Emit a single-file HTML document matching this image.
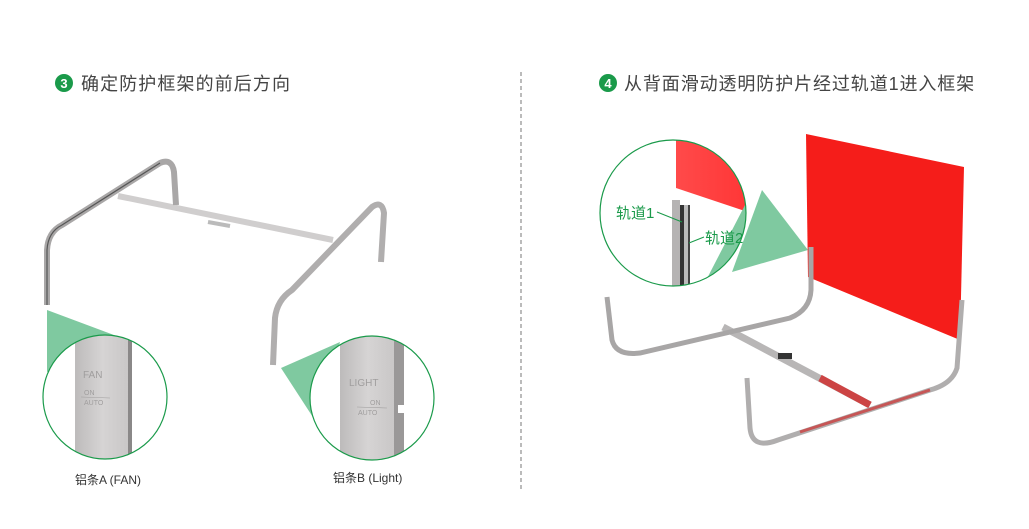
<!DOCTYPE html>
<html><head><meta charset="utf-8"><style>
body{margin:0;background:#fff;width:1029px;height:529px;overflow:hidden}
svg{display:block}
text{font-family:"Liberation Sans","Noto Sans CJK SC",sans-serif}
</style></head><body>
<svg width="1029" height="529" viewBox="0 0 1029 529">
<defs>
<linearGradient id="st" x1="0" x2="1"><stop offset="0" stop-color="#bdbbbb"/><stop offset="0.5" stop-color="#d6d4d4"/><stop offset="1" stop-color="#c8c6c6"/></linearGradient>
<linearGradient id="rd" x1="0" x2="1"><stop offset="0" stop-color="#ff4a4a"/><stop offset="1" stop-color="#ff3030"/></linearGradient>
<clipPath id="c1"><circle cx="105" cy="397" r="62"/></clipPath>
<clipPath id="c2"><circle cx="372" cy="398" r="62"/></clipPath>
<clipPath id="c3"><circle cx="673" cy="213" r="73"/></clipPath>
</defs>
<circle cx="64" cy="83" r="9" fill="#1a9a4a"/><text x="64" y="88" font-size="13" fill="#fff" text-anchor="middle" font-weight="bold">3</text>
<text x="81" y="90" font-size="18" fill="#444" letter-spacing="1.1">确定防护框架的前后方向</text>
<circle cx="608" cy="83" r="9" fill="#1a9a4a"/><text x="608" y="88" font-size="13" fill="#fff" text-anchor="middle" font-weight="bold">4</text>
<text x="624" y="90" font-size="18" fill="#444" letter-spacing="0.9">从背面滑动透明防护片经过轨道1进入框架</text>
<line x1="521" y1="72" x2="521" y2="490" stroke="#777" stroke-dasharray="4,3"/>

<g fill="none" stroke-linecap="butt">
<path d="M118 196 L333 240" stroke="#d0cece" stroke-width="6"/>
<path d="M208 222 L230 226" stroke="#bbb" stroke-width="4"/>
<path d="M47 305 L47 250 Q48 232 62 225 L160 163 Q172 158 174 172 L176 205" stroke="#a9a7a7" stroke-width="6"/>
<path d="M47 305 L47 250 Q48 232 62 225 L160 163" stroke="#555" stroke-width="1.2"/>
<path d="M273 365 L275 318 Q277 300 292 290 L372 207 Q382 200 384 213 L381 262" stroke="#b0aeae" stroke-width="6"/>
</g>
<polygon points="47,310 47,372 130,341" fill="#7fc9a0"/>
<polygon points="281,368 340,342 318,425" fill="#7fc9a0"/>
<g clip-path="url(#c1)">
<circle cx="105" cy="397" r="62" fill="#fff"/>
<rect x="75" y="330" width="55" height="140" fill="url(#st)"/>
<rect x="128" y="330" width="4" height="140" fill="#8a8888"/>
<text x="83" y="378" font-size="10" fill="#a09e9e">FAN</text>
<text x="84" y="395" font-size="7" fill="#a09e9e">ON</text>
<line x1="81" y1="397" x2="110" y2="398" stroke="#a09e9e" stroke-width="0.6"/>
<text x="84" y="405" font-size="7" fill="#a09e9e">AUTO</text>
</g>
<circle cx="105" cy="397" r="62" fill="none" stroke="#1a9a4a" stroke-width="1.2"/>
<g clip-path="url(#c2)">
<circle cx="372" cy="398" r="62" fill="#fff"/>
<rect x="340" y="330" width="56" height="140" fill="url(#st)"/>
<rect x="394" y="330" width="10" height="140" fill="#9a9898"/>
<rect x="398" y="405" width="8" height="8" fill="#fff"/>
<text x="349" y="386" font-size="10" fill="#a09e9e">LIGHT</text>
<text x="370" y="405" font-size="7" fill="#a09e9e">ON</text>
<line x1="357" y1="407" x2="387" y2="408" stroke="#a09e9e" stroke-width="0.6"/>
<text x="358" y="415" font-size="7" fill="#a09e9e">AUTO</text>
</g>
<circle cx="372" cy="398" r="62" fill="none" stroke="#1a9a4a" stroke-width="1.2"/>
<text x="75" y="484" font-size="12" fill="#333">铝条A (FAN)</text>
<text x="333" y="482" font-size="12" fill="#333">铝条B (Light)</text>

<polygon points="806,134 964,167 960,340 808,277" fill="#f51d1a"/>
<g fill="none">
<path d="M723 327 L870 405" stroke="#b8b6b6" stroke-width="7"/>
<path d="M820 378 L870 405" stroke="#c44" stroke-width="7"/>
<rect x="778" y="353" width="14" height="6" fill="#333"/>
<path d="M607 297 L612 340 Q616 356 640 353 L790 318 Q810 310 811 290 L811 247" stroke="#a8a6a6" stroke-width="5"/>
<path d="M962 300 L957 368 Q952 384 930 390 L778 440 Q752 450 750 428 L747 378" stroke="#b0aeae" stroke-width="5"/>
<path d="M930 390 L800 432" stroke="#d03030" stroke-width="3" opacity="0.7"/>
</g>
<polygon points="762,190 732,272 808,250" fill="#7fc9a0"/>
<g clip-path="url(#c3)">
<circle cx="673" cy="213" r="73" fill="#fff"/>
<polygon points="676,130 770,140 760,216 676,188" fill="url(#rd)"/>
<polygon points="745,205 808,250 700,292" fill="#7fc9a0"/>
<rect x="672" y="200" width="8" height="95" fill="#b5b3b3"/>
<rect x="680" y="205" width="4" height="90" fill="#333"/>
<rect x="684" y="205" width="4" height="90" fill="#bbb"/>
<rect x="688" y="205" width="2" height="90" fill="#444"/>
</g>
<circle cx="673" cy="213" r="73" fill="none" stroke="#1a9a4a" stroke-width="1.2"/>
<line x1="657" y1="212" x2="682" y2="222" stroke="#1a9a4a"/>
<line x1="704" y1="237" x2="689" y2="243" stroke="#1a9a4a"/>
<text x="616" y="218" font-size="15" fill="#1a9a4a">轨道1</text>
<text x="705" y="243" font-size="15" fill="#1a9a4a">轨道2</text>
</svg>
</body></html>
